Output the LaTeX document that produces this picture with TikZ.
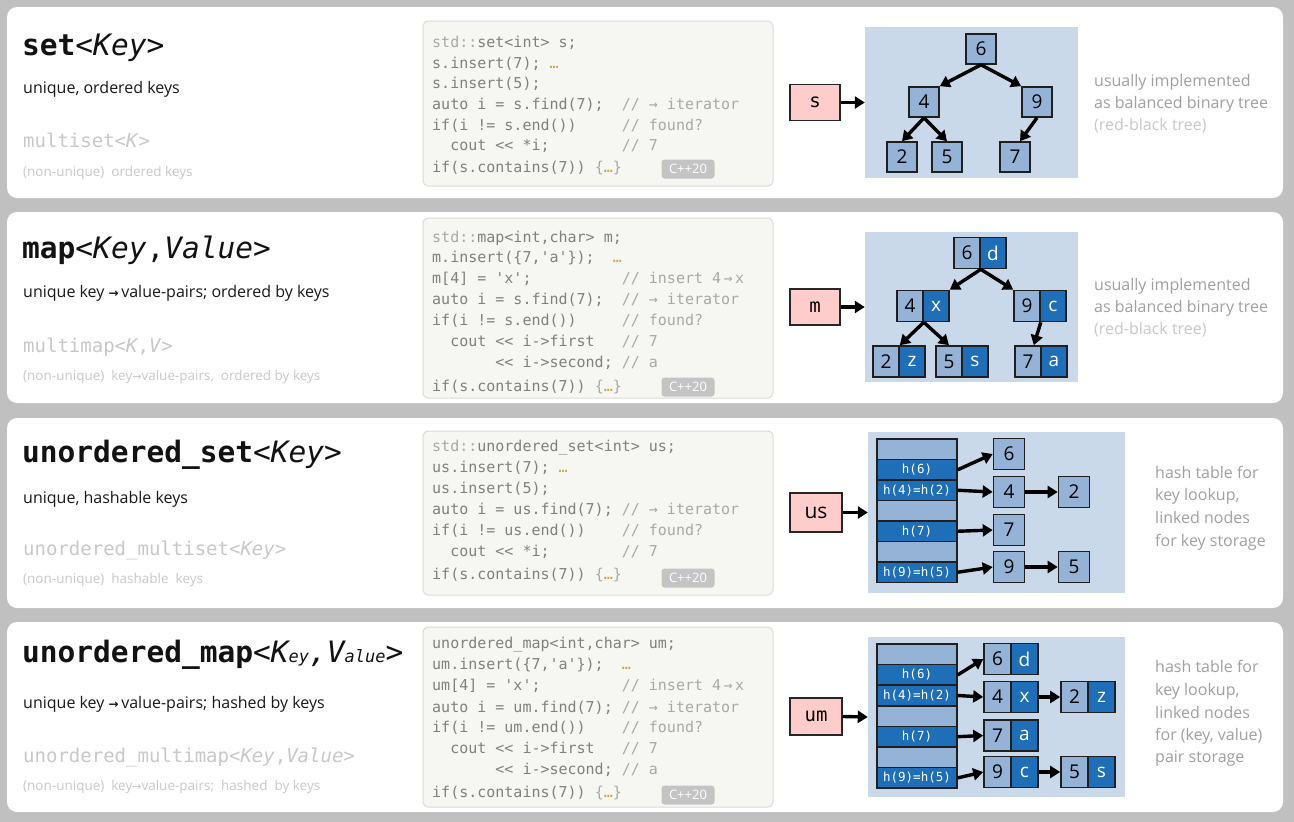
\documentclass[tikz,border=0pt]{standalone}
\usepackage{fontspec}
\setmainfont{Open Sans}
\setmonofont{DejaVu Sans Mono}
\newfontfamily\dvsans{DejaVu Sans}
\usetikzlibrary{arrows.meta}
\newcommand\setfs[1]{\fontsize{#1}{#1}\selectfont}
\definecolor{pagebg}{RGB}{192,192,192}
\definecolor{codebg}{RGB}{246,246,242}
\definecolor{codeborder}{RGB}{218,218,214}
\definecolor{codegray}{RGB}{128,128,128}
\definecolor{cmtgray}{RGB}{168,168,168}
\definecolor{dotc}{RGB}{205,165,70}
\definecolor{bluebg}{RGB}{201,217,234}
\definecolor{nodeL}{RGB}{149,179,215}
\definecolor{nodeD}{RGB}{30,110,184}
\definecolor{pinkc}{RGB}{255,204,204}
\definecolor{faint}{RGB}{200,200,200}
\definecolor{rgray}{RGB}{160,160,160}
\definecolor{badgec}{RGB}{196,196,196}
\newcommand\cmt[1]{\textcolor{cmtgray}{#1}}
\newcommand\dts{\textcolor{dotc}{…}}
\newcommand\rarr{{\dvsans\bfseries\setfs{12}→}}
\newcommand\rarrs{{\dvsans\setfs{11}→}}
\begin{document}
\begin{tikzpicture}[x=1pt,y=-1pt,
  code/.style={anchor=base west, inner sep=0pt, font=\ttfamily\setfs{15}, text=codegray},
  codebox/.style={draw=codeborder, fill=codebg, line width=1pt, rounded corners=5pt},
  badge/.style={fill=badgec, text=white, rounded corners=3pt, minimum width=53pt, minimum height=19pt, inner sep=0pt, font=\setfs{13}},
  ttl/.style={anchor=base west, inner sep=0pt, font=\ttfamily\setfs{29.5}, text=black!93},
  sub/.style={anchor=base west, inner sep=0pt, font=\setfs{16}, text=black!90},
  gmono/.style={anchor=base west, inner sep=0pt, font=\ttfamily\setfs{19}, text=faint},
  gsmall/.style={anchor=base west, inner sep=0pt, font=\setfs{13.5}, text=faint},
  rtext/.style={anchor=base west, inner sep=0pt, font=\setfs{16}, text=rgray},
  rtextl/.style={rtext, text=faint},
  blue/.style={fill=bluebg, inner sep=0pt},
  pinkbox/.style={draw=black!85, line width=1.5pt, fill=pinkc, inner sep=0pt, font=\ttfamily\setfs{19}},
  tn/.style={draw=black!88, line width=1.6pt, fill=nodeL, minimum width=30pt, minimum height=30pt, inner sep=0pt, font=\setfs{19}},
  kc/.style={draw=black!88, line width=1.6pt, fill=nodeL, minimum width=26pt, minimum height=31pt, inner sep=0pt, font=\setfs{19}},
  vc/.style={kc, fill=nodeD, text=white},
  hr/.style={draw=black!88, line width=1.4pt, fill=nodeL, minimum width=80pt, minimum height=20.5pt, inner sep=0pt},
  hrd/.style={hr, fill=nodeD, text=white, font=\ttfamily\setfs{12.5}},
  arr/.style={line width=3.4pt, -{Triangle[length=10pt,width=12pt]}}
]
\fill[pagebg] (0,0) rectangle (1294,822);
\useasboundingbox (0,0) rectangle (1294,822);
% panels
\fill[white, rounded corners=10pt] (7,7) rectangle (1283,198);
\fill[white, rounded corners=10pt] (7,212) rectangle (1283,403);
\fill[white, rounded corners=10pt] (7,418) rectangle (1283,608);
\fill[white, rounded corners=10pt] (7,622) rectangle (1283,812);
% code boxes
\draw[codebox] (423,21) rectangle (773,186);
\draw[codebox] (423,218) rectangle (773,398);
\draw[codebox] (423,431) rectangle (773,595);
\draw[codebox] (423,627) rectangle (773,807);

% ===== Panel 1 =====
\node[ttl] (t1) at (22,55) {\textbf{set}<\textit{Key}>};
\node[sub] (s1) at (23,93) {unique, ordered keys};
\node[gmono] (g1) at (23,147) {multiset<\textit{K}>};
\node[gsmall] (h1) at (23,176) {(non-unique)~ ordered keys};

\node[code] (c11) at (432,47) {\cmt{std::}set<int> s;};
\node[code] (c12) at (432,68) {s.insert(7);~\dts};
\node[code] (c13) at (432,88) {s.insert(5);};
\node[code] (c14) at (432,109) {auto i = s.find(7);~~\cmt{// → iterator}};
\node[code] (c15) at (432,130) {if(i != s.end())~~~~~\cmt{// found?}};
\node[code] (c16) at (432,150) {~~cout << *i;~~~~~~~~\cmt{// 7}};
\node[code] (c17) at (432,172) {if(s.contains(7)) \cmt{\{}\dts\cmt{\}}};
\node[badge] (b1) at (688,169) {C++20};

\node[pinkbox, minimum width=50pt, minimum height=36pt] (p1) at (815,102.5) {s};
\node[blue, minimum width=213pt, minimum height=151pt] (bg1) at (971.5,102.5) {};
\draw[arr] (p1.east) -- (bg1.west);
\node[tn] (a6) at (981,49) {6};
\node[tn] (a4) at (924,102) {4};
\node[tn] (a9) at (1037,102) {9};
\node[tn] (a2) at (902,157) {2};
\node[tn] (a5) at (947,157) {5};
\node[tn] (a7) at (1015,157) {7};
\draw[arr] (a6.south) -- (a4.north east);
\draw[arr] (a6.south) -- (a9.north west);
\draw[arr] (a4.south) -- (a2.north);
\draw[arr] (a4.south) -- (a5.north);
\draw[arr] (a9.south) -- ([xshift=5pt]a7.north);
\node[rtext] (r11) at (1094,86) {usually implemented};
\node[rtext] (r12) at (1094,108) {as balanced binary tree};
\node[rtextl] (r13) at (1094,130) {(red-black tree)};

% ===== Panel 2 =====
\node[ttl] (t2) at (22,258) {\textbf{map}<\textit{Key},\textit{Value}>};
\node[sub] (s2) at (23,297) {unique key \rarr\,value-pairs; ordered by keys};
\node[gmono] (g2) at (23,352) {multimap<\textit{K},\textit{V}>};
\node[gsmall] (h2) at (23,380) {(non-unique)~ key\rarrs value-pairs,~ ordered by keys};

\node[code] (c21) at (432,242) {\cmt{std::}map<int,char> m;};
\node[code] (c22) at (432,262) {m.insert(\{7,'a'\});~~\dts};
\node[code] (c23) at (432,283) {m[4] = 'x';~~~~~~~~~~\cmt{// insert 4\,→\,x}};
\node[code] (c24) at (432,304) {auto i = s.find(7);~~\cmt{// → iterator}};
\node[code] (c25) at (432,325) {if(i != s.end())~~~~~\cmt{// found?}};
\node[code] (c26) at (432,346) {~~cout << i->first~~~\cmt{// 7}};
\node[code] (c27) at (432,367) {~~~~~~~<< i->second;~\cmt{// a}};
\node[code] (c28) at (432,391) {if(s.contains(7)) \cmt{\{}\dts\cmt{\}}};
\node[badge] (b2) at (688,387) {C++20};

\node[pinkbox, minimum width=50pt, minimum height=36pt] (p2) at (815,307) {m};
\node[blue, minimum width=213pt, minimum height=150pt] (bg2) at (971.5,307) {};
\draw[arr] (p2.east) -- (bg2.west);
\node[kc] (k6) at (967,253) {6};   \node[vc] (v6) at (993,253) {d};
\node[kc] (k4) at (910,306) {4};   \node[vc] (v4) at (936,306) {x};
\node[kc] (k9) at (1027,306) {9};  \node[vc] (v9) at (1053,306) {c};
\node[kc] (k2) at (886,361.5) {2}; \node[vc] (v2) at (912,361.5) {z};
\node[kc] (k5) at (949,361.5) {5}; \node[vc] (v5) at (975,361.5) {s};
\node[kc] (k7) at (1028,361.5) {7};\node[vc] (v7) at (1054,361.5) {a};
\draw[arr] (k6.south east) -- (v4.north east);
\draw[arr] (k6.south east) -- (k9.north west);
\draw[arr] (k4.south east) -- (k2.north east);
\draw[arr] (k4.south east) -- (k5.north);
\draw[arr] (k9.south east) -- ([xshift=-8pt]k7.north east);
\node[rtext] (r21) at (1094,290) {usually implemented};
\node[rtext] (r22) at (1094,312) {as balanced binary tree};
\node[rtextl] (r23) at (1094,334) {(red-black tree)};

% ===== Panel 3 =====
\node[ttl] (t3) at (22,462) {\textbf{unordered\_set}<\textit{Key}>};
\node[sub] (s3) at (23,503) {unique, hashable keys};
\node[gmono] (g3) at (23,555) {unordered\_multiset<\textit{Key}>};
\node[gsmall] (h3) at (23,583) {(non-unique)~ hashable~ keys};

\node[code] (c31) at (432,451) {\cmt{std::}unordered\_set<int> us;};
\node[code] (c32) at (432,472) {us.insert(7);~\dts};
\node[code] (c33) at (432,493) {us.insert(5);};
\node[code] (c34) at (432,514) {auto i = us.find(7);~\cmt{// → iterator}};
\node[code] (c35) at (432,535) {if(i != us.end())~~~~\cmt{// found?}};
\node[code] (c36) at (432,556) {~~cout << *i;~~~~~~~~\cmt{// 7}};
\node[code] (c37) at (432,579) {if(s.contains(7)) \cmt{\{}\dts\cmt{\}}};
\node[badge] (b3) at (688,578) {C++20};

\node[pinkbox, minimum width=52pt, minimum height=39pt, font=\setfs{21}] (p3) at (816,512.5) {us};
\node[blue, minimum width=257pt, minimum height=161pt] (bg3) at (996.5,512.5) {};
\draw[arr] (p3.east) -- (bg3.west);
\node[hr]  (u1) at (917,449.25) {};
\node[hrd] (u2r) at (917,469.75) {h(6)};
\node[hrd] (u3r) at (917,490.25) {h(4)=h(2)};
\node[hr]  (u4r) at (917,510.75) {};
\node[hrd] (u5r) at (917,531.25) {h(7)};
\node[hr]  (u6r) at (917,551.75) {};
\node[hrd] (u7r) at (917,572.25) {h(9)=h(5)};
\node[tn, minimum width=31pt, minimum height=31pt] (e6) at (1009,454) {6};
\node[tn, minimum width=31pt, minimum height=31pt] (e4) at (1009,492) {4};
\node[tn, minimum width=31pt, minimum height=31pt] (e2) at (1074,492) {2};
\node[tn, minimum width=31pt, minimum height=31pt] (e7) at (1009,530) {7};
\node[tn, minimum width=31pt, minimum height=31pt] (e9) at (1009,567) {9};
\node[tn, minimum width=31pt, minimum height=31pt] (e5) at (1074,567) {5};
\draw[arr] (u2r.east) -- (e6.west);
\draw[arr] (u3r.east) -- (e4.west);
\draw[arr] (u5r.east) -- (e7.west);
\draw[arr] (u7r.east) -- (e9.west);
\draw[arr] (e4.east) -- (e2.west);
\draw[arr] (e9.east) -- (e5.west);
\node[rtext] (r31) at (1155,478) {hash table for};
\node[rtext] (r32) at (1155,500.5) {key lookup,};
\node[rtext] (r33) at (1155,523) {linked nodes};
\node[rtext] (r34) at (1155,546) {for key storage};

% ===== Panel 4 =====
\node[ttl] (t4) at (22,662) {\textbf{unordered\_map}<\textit{K{\setfs{17}ey},V{\setfs{17}alue}}>};
\node[sub] (s4) at (23,708) {unique key \rarr\,value-pairs; hashed by keys};
\node[gmono] (g4) at (23,762) {unordered\_multimap<\textit{Key},\textit{Value}>};
\node[gsmall] (h4) at (23,790) {(non-unique)~ key\rarrs value-pairs;~ hashed~ by keys};

\node[code] (c41) at (432,648) {unordered\_map<int,char> um;};
\node[code] (c42) at (432,669) {um.insert(\{7,'a'\});~~\dts};
\node[code] (c43) at (432,690) {um[4] = 'x';~~~~~~~~~\cmt{// insert 4\,→\,x}};
\node[code] (c44) at (432,712) {auto i = um.find(7);~\cmt{// → iterator}};
\node[code] (c45) at (432,732) {if(i != um.end())~~~~\cmt{// found?}};
\node[code] (c46) at (432,753) {~~cout << i->first~~~\cmt{// 7}};
\node[code] (c47) at (432,774) {~~~~~~~<< i->second;~\cmt{// a}};
\node[code] (c48) at (432,797) {if(s.contains(7)) \cmt{\{}\dts\cmt{\}}};
\node[badge] (b4) at (688,795) {C++20};

\node[pinkbox, minimum width=52pt, minimum height=37pt] (p4) at (816,716.5) {um};
\node[blue, minimum width=257pt, minimum height=160pt] (bg4) at (996.5,717) {};
\draw[arr] (p4.east) -- (bg4.west);
\node[hr]  (w1) at (917,654.3) {};
\node[hrd] (w2r) at (917,674.9) {h(6)};
\node[hrd] (w3r) at (917,695.5) {h(4)=h(2)};
\node[hr]  (w4r) at (917,716.1) {};
\node[hrd] (w5r) at (917,736.7) {h(7)};
\node[hr]  (w6r) at (917,757.3) {};
\node[hrd] (w7r) at (917,777.9) {h(9)=h(5)};
\node[kc, minimum width=27pt] (m6k) at (997.5,659) {6};   \node[vc, minimum width=27pt] (m6v) at (1024.5,659) {d};
\node[kc, minimum width=27pt] (m4k) at (997.5,697) {4};   \node[vc, minimum width=27pt] (m4v) at (1024.5,697) {x};
\node[kc, minimum width=27pt] (m2k) at (1074.5,697) {2};  \node[vc, minimum width=27pt] (m2v) at (1101.5,697) {z};
\node[kc, minimum width=27pt] (m7k) at (997.5,735.5) {7}; \node[vc, minimum width=27pt] (m7v) at (1024.5,735.5) {a};
\node[kc, minimum width=27pt] (m9k) at (997.5,772) {9};   \node[vc, minimum width=27pt] (m9v) at (1024.5,772) {c};
\node[kc, minimum width=27pt] (m5k) at (1074.5,772) {5};  \node[vc, minimum width=27pt] (m5v) at (1101.5,772) {s};
\draw[arr] (w2r.east) -- (m6k.west);
\draw[arr] (w3r.east) -- (m4k.west);
\draw[arr] (w5r.east) -- (m7k.west);
\draw[arr] (w7r.east) -- (m9k.west);
\draw[arr] (m4v.east) -- (m2k.west);
\draw[arr] (m9v.east) -- (m5k.west);
\node[rtext] (r41) at (1155,672) {hash table for};
\node[rtext] (r42) at (1155,695) {key lookup,};
\node[rtext] (r43) at (1155,718) {linked nodes};
\node[rtext] (r44) at (1155,740) {for (key, value)};
\node[rtext] (r45) at (1155,762) {pair storage};
\end{tikzpicture}
\end{document}
